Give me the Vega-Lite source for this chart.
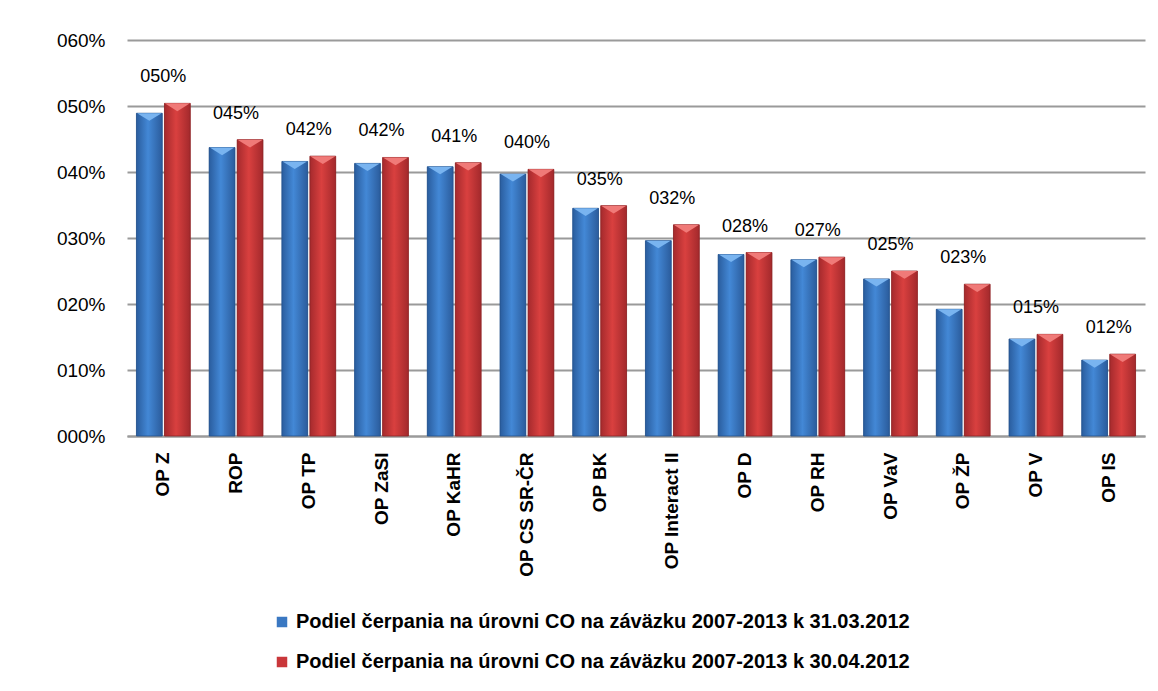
{
  "$schema": "https://vega.github.io/schema/vega-lite/v6.json",
  "width": 1018,
  "height": 396,
  "autosize": {"type": "none"},
  "padding": {"left": 127, "top": 40, "right": 13, "bottom": 255},
  "background": "white",
  "config": {
    "font": "Liberation Sans",
    "view": {"stroke": null}
  },
  "data": {
    "values": [
      {"op": "OP Z", "series": "Podiel čerpania na úrovni CO na záväzku 2007-2013 k 31.03.2012", "value": 0.489},
      {"op": "OP Z", "series": "Podiel čerpania na úrovni CO na záväzku 2007-2013 k 30.04.2012", "value": 0.504},
      {"op": "ROP", "series": "Podiel čerpania na úrovni CO na záväzku 2007-2013 k 31.03.2012", "value": 0.437},
      {"op": "ROP", "series": "Podiel čerpania na úrovni CO na záväzku 2007-2013 k 30.04.2012", "value": 0.449},
      {"op": "OP TP", "series": "Podiel čerpania na úrovni CO na záväzku 2007-2013 k 31.03.2012", "value": 0.416},
      {"op": "OP TP", "series": "Podiel čerpania na úrovni CO na záväzku 2007-2013 k 30.04.2012", "value": 0.424},
      {"op": "OP ZaSI", "series": "Podiel čerpania na úrovni CO na záväzku 2007-2013 k 31.03.2012", "value": 0.413},
      {"op": "OP ZaSI", "series": "Podiel čerpania na úrovni CO na záväzku 2007-2013 k 30.04.2012", "value": 0.422},
      {"op": "OP KaHR", "series": "Podiel čerpania na úrovni CO na záväzku 2007-2013 k 31.03.2012", "value": 0.408},
      {"op": "OP KaHR", "series": "Podiel čerpania na úrovni CO na záväzku 2007-2013 k 30.04.2012", "value": 0.414},
      {"op": "OP CS SR-ČR", "series": "Podiel čerpania na úrovni CO na záväzku 2007-2013 k 31.03.2012", "value": 0.397},
      {"op": "OP CS SR-ČR", "series": "Podiel čerpania na úrovni CO na záväzku 2007-2013 k 30.04.2012", "value": 0.404},
      {"op": "OP BK", "series": "Podiel čerpania na úrovni CO na záväzku 2007-2013 k 31.03.2012", "value": 0.345},
      {"op": "OP BK", "series": "Podiel čerpania na úrovni CO na záväzku 2007-2013 k 30.04.2012", "value": 0.349},
      {"op": "OP Interact II", "series": "Podiel čerpania na úrovni CO na záväzku 2007-2013 k 31.03.2012", "value": 0.296},
      {"op": "OP Interact II", "series": "Podiel čerpania na úrovni CO na záväzku 2007-2013 k 30.04.2012", "value": 0.320},
      {"op": "OP D", "series": "Podiel čerpania na úrovni CO na záväzku 2007-2013 k 31.03.2012", "value": 0.275},
      {"op": "OP D", "series": "Podiel čerpania na úrovni CO na záväzku 2007-2013 k 30.04.2012", "value": 0.278},
      {"op": "OP RH", "series": "Podiel čerpania na úrovni CO na záväzku 2007-2013 k 31.03.2012", "value": 0.267},
      {"op": "OP RH", "series": "Podiel čerpania na úrovni CO na záväzku 2007-2013 k 30.04.2012", "value": 0.271},
      {"op": "OP VaV", "series": "Podiel čerpania na úrovni CO na záväzku 2007-2013 k 31.03.2012", "value": 0.238},
      {"op": "OP VaV", "series": "Podiel čerpania na úrovni CO na záväzku 2007-2013 k 30.04.2012", "value": 0.250},
      {"op": "OP ŽP", "series": "Podiel čerpania na úrovni CO na záväzku 2007-2013 k 31.03.2012", "value": 0.192},
      {"op": "OP ŽP", "series": "Podiel čerpania na úrovni CO na záväzku 2007-2013 k 30.04.2012", "value": 0.230},
      {"op": "OP V", "series": "Podiel čerpania na úrovni CO na záväzku 2007-2013 k 31.03.2012", "value": 0.147},
      {"op": "OP V", "series": "Podiel čerpania na úrovni CO na záväzku 2007-2013 k 30.04.2012", "value": 0.154},
      {"op": "OP IS", "series": "Podiel čerpania na úrovni CO na záväzku 2007-2013 k 31.03.2012", "value": 0.115},
      {"op": "OP IS", "series": "Podiel čerpania na úrovni CO na záväzku 2007-2013 k 30.04.2012", "value": 0.124}
    ]
  },
  "encoding": {
    "x": {
      "field": "op",
      "type": "nominal",
      "sort": null,
      "title": null,
      "scale": {"paddingInner": 0.26, "paddingOuter": 0.13},
      "axis": {
        "labelAngle": -90,
        "labelAlign": "right",
        "labelBaseline": "middle",
        "labelFont": "Liberation Sans",
        "labelFontWeight": "bold",
        "labelFontSize": 19,
        "labelColor": "black",
        "labelPadding": 16,
        "ticks": false,
        "domainColor": "#9a9a9a",
        "domainWidth": 2
      }
    },
    "y": {
      "field": "value",
      "type": "quantitative",
      "title": null,
      "scale": {"domain": [0, 0.6]},
      "axis": {
        "values": [0, 0.1, 0.2, 0.3, 0.4, 0.5, 0.6],
        "format": "04.0%",
        "labelFont": "Liberation Sans",
        "labelFontSize": 19,
        "labelColor": "black",
        "labelPadding": 22,
        "ticks": false,
        "domain": false,
        "gridColor": "#9a9a9a",
        "gridWidth": 2
      }
    }
  },
  "layer": [
    {
      "mark": {"type": "bar"},
      "encoding": {
        "xOffset": {"field": "series", "type": "nominal", "sort": null, "scale": {"paddingInner": 0.08}},
        "color": {
          "field": "series",
          "type": "nominal",
          "sort": null,
          "scale": {
            "domain": ["Podiel čerpania na úrovni CO na záväzku 2007-2013 k 31.03.2012", "Podiel čerpania na úrovni CO na záväzku 2007-2013 k 30.04.2012"],
            "range": ["#3A78C2", "#C9373A"]
          },
          "legend": {
            "title": null,
            "orient": "none",
            "legendX": 145,
            "legendY": 572,
            "direction": "vertical",
            "rowPadding": 20,
            "symbolType": "square",
            "symbolSize": 110,
            "symbolStrokeWidth": 0,
            "labelFont": "Liberation Sans",
            "labelFontWeight": "bold",
            "labelFontSize": 20,
            "labelColor": "black",
            "labelLimit": 0,
            "labelOffset": 4
          }
        }
      }
    },
    {
      "transform": [{"filter": "datum.series == 'Podiel čerpania na úrovni CO na záväzku 2007-2013 k 31.03.2012'"}],
      "mark": {
        "type": "bar",
        "stroke": "#24508a",
        "strokeWidth": 0.8,
        "color": {
          "gradient": "linear", "x1": 0, "x2": 1, "y1": 0, "y2": 0,
          "stops": [
            {"offset": 0, "color": "#2a5d9e"},
            {"offset": 0.45, "color": "#4388d6"},
            {"offset": 1, "color": "#2b5c9c"}
          ]
        }
      },
      "encoding": {
        "xOffset": {"field": "series", "type": "nominal", "sort": null}
      }
    },
    {
      "transform": [{"filter": "datum.series == 'Podiel čerpania na úrovni CO na záväzku 2007-2013 k 30.04.2012'"}],
      "mark": {
        "type": "bar",
        "stroke": "#8a2426",
        "strokeWidth": 0.8,
        "color": {
          "gradient": "linear", "x1": 0, "x2": 1, "y1": 0, "y2": 0,
          "stops": [
            {"offset": 0, "color": "#a52a2d"},
            {"offset": 0.45, "color": "#d9403f"},
            {"offset": 1, "color": "#a3292c"}
          ]
        }
      },
      "encoding": {
        "xOffset": {"field": "series", "type": "nominal", "sort": null}
      }
    },
    {
      "transform": [{"filter": "datum.series == 'Podiel čerpania na úrovni CO na záväzku 2007-2013 k 31.03.2012'"}],
      "mark": {"type": "point", "shape": "M-1,0L1,0L0,0.62Z", "filled": true, "opacity": 1, "color": "#79b4f0", "size": 600},
      "encoding": {
        "xOffset": {"field": "series", "type": "nominal", "sort": null}
      }
    },
    {
      "transform": [{"filter": "datum.series == 'Podiel čerpania na úrovni CO na záväzku 2007-2013 k 30.04.2012'"}],
      "mark": {"type": "point", "shape": "M-1,0L1,0L0,0.62Z", "filled": true, "opacity": 1, "color": "#f07a78", "size": 640},
      "encoding": {
        "xOffset": {"field": "series", "type": "nominal", "sort": null}
      }
    },
    {
      "transform": [{"filter": "datum.series == 'Podiel čerpania na úrovni CO na záväzku 2007-2013 k 30.04.2012'"}],
      "mark": {"type": "text", "dy": -17, "font": "Liberation Sans", "fontSize": 18, "color": "black", "baseline": "bottom"},
      "encoding": {
        "text": {"field": "value", "type": "quantitative", "format": "04.0%"}
      }
    }
  ]
}
